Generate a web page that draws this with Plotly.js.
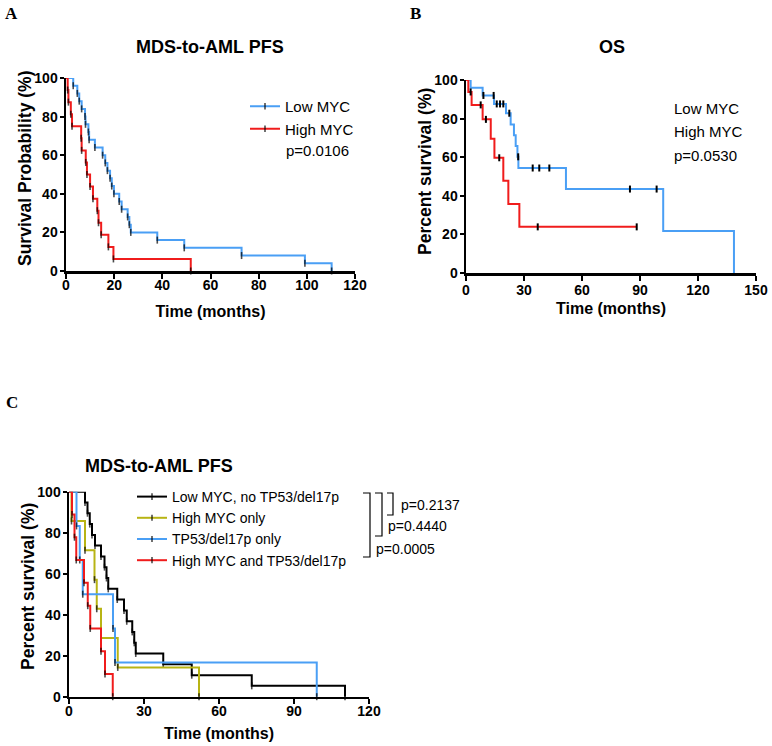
<!DOCTYPE html>
<html><head><meta charset="utf-8">
<script src="https://cdn.plot.ly/plotly-3.0.1.min.js"></script>
<style>html,body{margin:0;padding:0;background:#fff}</style>
</head><body><div id="chart" style="width:772px;height:746px"></div>
<script>
// ---------- Panel A: MDS-to-AML PFS ----------
const A_lowTimes  = [3.0, 4.7, 5.5, 6.5, 7.9, 8.1, 9.3, 9.6, 12.0, 15.2, 16.3, 17.2, 18.3, 19.0, 19.9, 22.1, 23.1, 25.6, 26.3, 26.9, 37.9, 49.1, 72.9, 99.2, 110.3];
const A_lowSurv   = [96, 92, 88, 84, 80, 76, 72, 68, 64, 60, 56, 52, 48, 44, 40, 36, 32, 28, 24, 20, 16, 12, 8, 4, 0];
const A_highTimes = [0.7, 1.0, 2.0, 2.5, 6.3, 6.5, 8.2, 8.7, 10.0, 11.2, 13.0, 13.5, 14.6, 17.6, 19.7, 51.8];
const A_highSurv  = [93.75, 87.5, 81.25, 75, 68.75, 62.5, 56.25, 50, 43.75, 37.5, 31.25, 25, 18.75, 12.5, 6.25, 0];

// ---------- Panel B: OS ----------
const B_lowTimes   = [2.4, 8.6, 14.5, 20.7, 23.1, 24.8, 25.7, 26.6, 27.1, 51.7, 102.0, 138.6];
const B_lowSurv    = [96.0, 92.0, 87.6, 82.8, 77.0, 71.4, 65.8, 60.2, 54.4, 43.5, 21.8, 0];
const B_lowCensor  = [9.0, 14.3, 15.9, 17.6, 19.3, 22.4, 27.0, 34.5, 37.9, 43.1, 84.8, 98.6];
const B_highTimes  = [1.2, 2.9, 8.6, 12.8, 14.7, 19.3, 21.9, 27.6];
const B_highSurv   = [93.8, 87.1, 79.6, 69.6, 59.7, 47.8, 35.8, 23.9];
const B_highCensor = [2.4, 7.6, 10.3, 17.2, 37.1, 88.3];

// ---------- Panel C: MDS-to-AML PFS by group ----------
const C_names = ['Low MYC, no TP53/del17p', 'High MYC only', 'TP53/del17p only', 'High MYC and TP53/del17p'];
const C_lowNoTimes  = [6.4, 7.4, 8.3, 9.2, 10.4, 12.8, 14.2, 15.0, 15.7, 19.3, 22.0, 23.1, 25.3, 26.1, 26.7, 37.7, 49.1, 73.1, 110.4];
const C_lowNoSurv   = [94.7, 89.5, 84.2, 78.9, 73.7, 68.4, 63.2, 57.9, 52.6, 47.4, 42.1, 36.8, 31.6, 26.3, 21.1, 15.8, 10.5, 5.3, 0];
const C_highOnlyTimes = [1.0, 6.4, 10.2, 11.1, 12.8, 19.5, 52.0];
const C_highOnlySurv  = [85.7, 71.4, 57.1, 42.9, 28.6, 14.3, 0];
const C_tp53Times   = [3.0, 4.3, 5.5, 17.6, 18.4, 99.1];
const C_tp53Surv    = [83.3, 66.7, 50.0, 33.3, 16.7, 0];
const C_bothTimes   = [1.2, 2.2, 2.9, 6.0, 7.5, 8.5, 12.8, 14.4, 17.5];
const C_bothSurv    = [88.9, 77.8, 66.7, 55.6, 44.4, 33.3, 22.2, 11.1, 0];
const C_pvals = ['p=0.2137', 'p=0.4440', 'p=0.0005'];

// ---------- styling ----------
const FONT = 'Liberation Sans, Arial, sans-serif';
const SERIF = 'Liberation Serif, Times New Roman, serif';
const BLUE = '#4a9ff5', RED = '#f01c1c', OLIVE = '#b8b414', BLACK = '#000000';
const W = 772, H = 746;
const px = v => v / W;
const py = v => 1 - v / H;

function stepXY(times, surv, tail) {
  const x = [0].concat(times), y = [100].concat(surv);
  if (tail !== undefined && tail > times[times.length - 1]) { x.push(tail); y.push(surv[surv.length - 1]); }
  return {x, y};
}
function levelAt(times, surv, t) {
  let s = 100;
  for (let i = 0; i < times.length; i++) if (times[i] <= t) s = surv[i];
  return s;
}
function kmTicked(times, surv, color, name, xa, ya, legend) {
  const xy = stepXY(times, surv);
  return {
    type: 'scatter', mode: 'lines+markers', x: xy.x, y: xy.y, name: name,
    xaxis: xa, yaxis: ya, legend: legend,
    line: {shape: 'hv', color: color, width: 2},
    marker: {symbol: 'line-ns', size: xy.x.map((v, i) => i === 0 ? 0 : 5), color: BLACK, line: {color: BLACK, width: 1.6}},
    cliponaxis: false, hoverinfo: 'skip'
  };
}
function kmPlain(times, surv, censor, color, xa, ya) {
  const xy = stepXY(times, surv, Math.max.apply(null, censor));
  return [{
    type: 'scatter', mode: 'lines', x: xy.x, y: xy.y, showlegend: false,
    xaxis: xa, yaxis: ya, line: {shape: 'hv', color: color, width: 2},
    cliponaxis: false, hoverinfo: 'skip'
  }, {
    type: 'scatter', mode: 'markers', x: censor, y: censor.map(t => levelAt(times, surv, t)),
    showlegend: false, xaxis: xa, yaxis: ya,
    marker: {symbol: 'line-ns', size: 5, color: BLACK, line: {color: BLACK, width: 2}},
    cliponaxis: false, hoverinfo: 'skip'
  }];
}

const traces = [
  kmTicked(A_lowTimes, A_lowSurv, BLUE, 'Low MYC', 'x', 'y', 'legend'),
  kmTicked(A_highTimes, A_highSurv, RED, 'High MYC', 'x', 'y', 'legend'),
  ...kmPlain(B_lowTimes, B_lowSurv, B_lowCensor, BLUE, 'x2', 'y2'),
  ...kmPlain(B_highTimes, B_highSurv, B_highCensor, RED, 'x2', 'y2'),
  kmTicked(C_lowNoTimes, C_lowNoSurv, BLACK, C_names[0], 'x3', 'y3', 'legend2'),
  kmTicked(C_highOnlyTimes, C_highOnlySurv, OLIVE, C_names[1], 'x3', 'y3', 'legend2'),
  kmTicked(C_tp53Times, C_tp53Surv, BLUE, C_names[2], 'x3', 'y3', 'legend2'),
  kmTicked(C_bothTimes, C_bothSurv, RED, C_names[3], 'x3', 'y3', 'legend2')
];

const tickFont = {family: FONT, size: 14, color: BLACK, weight: 700};
function xax(domain, range, dtick, anchor, labelShift, titleStandoff) {
  return {domain: domain, range: range, dtick: dtick, tick0: 0, anchor: anchor,
    showline: true, linewidth: 2.5, linecolor: BLACK, ticks: 'outside', ticklen: 5, tickwidth: 2, tickcolor: BLACK,
    ticklabelstandoff: labelShift,
    showgrid: false, zeroline: false, tickfont: tickFont, fixedrange: true,
    title: {text: 'Time (months)', font: {family: FONT, size: 16, color: BLACK, weight: 700}, standoff: titleStandoff}};
}
function yax(domain, anchor) {
  return {domain: domain, range: [0, 100], dtick: 20, tick0: 0, anchor: anchor,
    showline: true, linewidth: 2.5, linecolor: BLACK, ticks: 'outside', ticklen: 4, tickwidth: 2, tickcolor: BLACK,
    ticklabelstandoff: -1,
    showgrid: false, zeroline: false, tickfont: tickFont, fixedrange: true};
}

function ann(text, x, y, opts) {
  return Object.assign({text: text, x: px(x), y: py(y), xref: 'paper', yref: 'paper', showarrow: false,
    xanchor: 'center', yanchor: 'middle', font: {family: FONT, size: 15, color: BLACK}}, opts || {});
}
const boldTitle = {family: FONT, size: 18, color: BLACK, weight: 700};
const yTitleFont = {family: FONT, size: 17.5, color: BLACK, weight: 700};
const panelFont = {family: SERIF, size: 17, color: BLACK, weight: 700};
const legFont = {family: FONT, size: 15, color: BLACK};
const pFont = {family: FONT, size: 14, color: BLACK};

const annotations = [
  ann('A', 11, 13, {font: panelFont}),
  ann('B', 415, 13, {font: panelFont}),
  ann('C', 12, 402, {font: panelFont}),
  ann('MDS-to-AML PFS', 210, 47, {font: boldTitle}),
  ann('OS', 612, 47, {font: boldTitle}),
  ann('MDS-to-AML PFS', 159, 466, {font: boldTitle}),
  ann('Survival Probability (%)', 25, 169, {font: yTitleFont, textangle: -90}),
  ann('Percent survival (%)', 425, 171, {font: yTitleFont, textangle: -90}),
  ann('Percent survival (%)', 28, 587, {font: yTitleFont, textangle: -90}),
  ann('p=0.0106', 284, 150, {xanchor: 'left'}),
  ann('Low MYC', 672, 109, {xanchor: 'left'}),
  ann('High MYC', 672, 131, {xanchor: 'left'}),
  ann('p=0.0530', 672, 155, {xanchor: 'left'}),
  ann(C_pvals[0], 399, 505, {xanchor: 'left', font: pFont}),
  ann(C_pvals[1], 386, 526, {xanchor: 'left', font: pFont}),
  ann(C_pvals[2], 374, 549, {xanchor: 'left', font: pFont})
];

function bracket(xl, xr, yt, yb) {
  return {type: 'path', xref: 'paper', yref: 'paper',
    path: `M ${px(xl)},${py(yt)} L ${px(xr)},${py(yt)} L ${px(xr)},${py(yb)} L ${px(xl)},${py(yb)}`,
    line: {color: BLACK, width: 1.2}};
}
const shapes = [bracket(363, 370, 493, 557), bracket(375, 382, 493, 536), bracket(387, 393, 493, 515)];

const layout = {
  width: W, height: H, margin: {l: 0, r: 0, t: 0, b: 0},
  paper_bgcolor: '#ffffff', plot_bgcolor: '#ffffff',
  font: {family: FONT, color: BLACK},
  xaxis: xax([px(66), px(355)], [0, 120], 20, 'y', -5, 14),
  yaxis: yax([py(271), py(78)], 'x'),
  xaxis2: xax([px(466), px(756)], [0, 150], 30, 'y2', -2, 6),
  yaxis2: yax([py(273), py(80)], 'x2'),
  xaxis3: xax([px(69), px(369)], [0, 120], 30, 'y3', -5, 10),
  yaxis3: yax([py(696.7), py(491.7)], 'x3'),
  legend: {x: px(245), y: py(90), xanchor: 'left', yanchor: 'top', bgcolor: 'rgba(0,0,0,0)', borderwidth: 0,
    font: legFont, tracegroupgap: 0},
  legend2: {x: px(132), y: py(481), xanchor: 'left', yanchor: 'top', bgcolor: 'rgba(0,0,0,0)', borderwidth: 0,
    font: {family: FONT, size: 14, color: BLACK}, tracegroupgap: 0},
  annotations: annotations,
  shapes: shapes,
  showlegend: true
};

Plotly.newPlot('chart', traces, layout, {displayModeBar: false, staticPlot: true});
</script>
</body></html>
